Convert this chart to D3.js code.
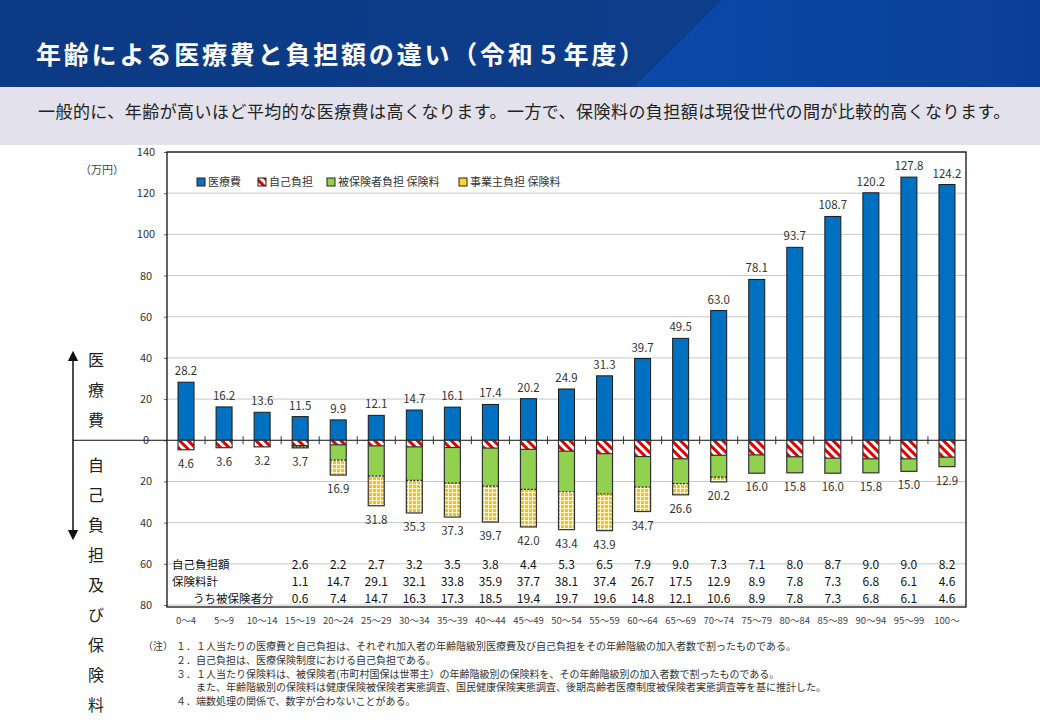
<!DOCTYPE html>
<html><head><meta charset="utf-8">
<script src="https://cdn.jsdelivr.net/npm/d3@7"></script>
<style>
body{margin:0;background:#fff;}
svg{display:block;}
text{font-family:"Noto Sans CJK JP","Noto Sans",sans-serif;}
</style></head>
<body>
<script>
// ---- data ----
const ages = ["0～4","5～9","10～14","15～19","20～24","25～29","30～34","35～39","40～44","45～49","50～54","55～59","60～64","65～69","70～74","75～79","80～84","85～89","90～94","95～99","100～"];
const medical = [28.2,16.2,13.6,11.5,9.9,12.1,14.7,16.1,17.4,20.2,24.9,31.3,39.7,49.5,63.0,78.1,93.7,108.7,120.2,127.8,124.2];
const selfPay = [4.6,3.6,3.2,2.6,2.2,2.7,3.2,3.5,3.8,4.4,5.3,6.5,7.9,9.0,7.3,7.1,8.0,8.7,9.0,9.0,8.2];
const premiumTotal = [0,0,0,1.1,14.7,29.1,32.1,33.8,35.9,37.7,38.1,37.4,26.7,17.5,12.9,8.9,7.8,7.3,6.8,6.1,4.6];
const premiumInsured = [0,0,0,0.6,7.4,14.7,16.3,17.3,18.5,19.4,19.7,19.6,14.8,12.1,10.6,8.9,7.8,7.3,6.8,6.1,4.6];
const totalLabels = ["4.6","3.6","3.2","3.7","16.9","31.8","35.3","37.3","39.7","42.0","43.4","43.9","34.7","26.6","20.2","16.0","15.8","16.0","15.8","15.0","12.9"];
const tableSelfPay = [null,null,null,"2.6","2.2","2.7","3.2","3.5","3.8","4.4","5.3","6.5","7.9","9.0","7.3","7.1","8.0","8.7","9.0","9.0","8.2"];
const tablePremium = [null,null,null,"1.1","14.7","29.1","32.1","33.8","35.9","37.7","38.1","37.4","26.7","17.5","12.9","8.9","7.8","7.3","6.8","6.1","4.6"];
const tableInsured = [null,null,null,"0.6","7.4","14.7","16.3","17.3","18.5","19.4","19.7","19.6","14.8","12.1","10.6","8.9","7.8","7.3","6.8","6.1","4.6"];
const yTicks = [140,120,100,80,60,40,20,0,-20,-40,-60,-80];
const legendItems = ["医療費","自己負担","被保険者負担 保険料","事業主負担 保険料"];
const title = "年齢による医療費と負担額の違い（令和５年度）";
const subtitle = "一般的に、年齢が高いほど平均的な医療費は高くなります。一方で、保険料の負担額は現役世代の間が比較的高くなります。";
const notes = [
 ["（注）","１．１人当たりの医療費と自己負担は、それぞれ加入者の年齢階級別医療費及び自己負担をその年齢階級の加入者数で割ったものである。"],
 ["","２．自己負担は、医療保険制度における自己負担である。"],
 ["","３．１人当たり保険料は、被保険者(市町村国保は世帯主）の年齢階級別の保険料を、その年齢階級別の加入者数で割ったものである。"],
 ["","　　また、年齢階級別の保険料は健康保険被保険者実態調査、国民健康保険実態調査、後期高齢者医療制度被保険者実態調査等を基に推計した。"],
 ["","４．端数処理の関係で、数字が合わないことがある。"]
];

const W=1040,H=720;
const svg=d3.select("body").append("svg").attr("width",W).attr("height",H);
const defs=svg.append("defs");

// header
const g1=defs.append("linearGradient").attr("id","hdr").attr("x1","0").attr("x2","1").attr("y1","0").attr("y2","0");
g1.append("stop").attr("offset","0").attr("stop-color","#0c3a84");
g1.append("stop").attr("offset","1").attr("stop-color","#0e3f8e");
const g2=defs.append("linearGradient").attr("id","hdr2").attr("x1","0").attr("x2","1").attr("y1","0").attr("y2","0");
g2.append("stop").attr("offset","0").attr("stop-color","#0a4aa8");
g2.append("stop").attr("offset","1").attr("stop-color","#0a3f99");
svg.append("rect").attr("x",0).attr("y",0).attr("width",W).attr("height",87).attr("fill","url(#hdr)");
svg.append("polygon").attr("points","722,0 1040,0 1040,87 634,87").attr("fill","url(#hdr2)");
svg.append("text").attr("x",36).attr("y",64).attr("fill","#fff").attr("font-size",25).attr("font-weight","bold")
  .attr("letter-spacing","2.8px").text(title);
svg.append("rect").attr("x",0).attr("y",87).attr("width",W).attr("height",58).attr("fill","#e3e2ec");
svg.append("text").attr("x",38).attr("y",118).attr("fill","#222").attr("font-size",17).attr("letter-spacing","0.45px").text(subtitle);

// patterns
const hatch=defs.append("pattern").attr("id","hatch").attr("patternUnits","userSpaceOnUse")
  .attr("width",6).attr("height",6).attr("patternTransform","rotate(-45)");
hatch.append("rect").attr("width",6).attr("height",6).attr("fill","#fff");
hatch.append("rect").attr("x",0).attr("y",0).attr("width",3).attr("height",6).attr("fill","#e00000");
const grid=defs.append("pattern").attr("id","grid").attr("patternUnits","userSpaceOnUse").attr("width",4).attr("height",4);
grid.append("rect").attr("width",4).attr("height",4).attr("fill","#ffc000");
grid.append("rect").attr("width",4).attr("height",1).attr("fill","#fff8d8");
grid.append("rect").attr("width",1).attr("height",4).attr("fill","#fff8d8");

// scales
const L=167,R=966,T=152,B=605;
const x=d3.scaleBand().domain(ages).range([L,R]).padding(0);
const y=d3.scaleLinear().domain([-80,140]).range([B,T]);
const bw=16;
const cx=d=>x(d)+x.bandwidth()/2;

// gridlines
svg.append("g").selectAll("line").data(yTicks.filter(t=>t!==0)).join("line")
  .attr("x1",L).attr("x2",R).attr("y1",d=>y(d)).attr("y2",d=>y(d)).attr("stroke","#c8c8c8").attr("stroke-width",1);

// y-axis via d3 axis (labels custom)
const yAxis=d3.axisLeft(y).tickValues(yTicks).tickSize(3).tickPadding(8).tickFormat(d=>Math.abs(d));
const ya=svg.append("g").attr("transform",`translate(${L},0)`).call(yAxis);
ya.select(".domain").remove();
ya.selectAll("line").attr("stroke","#666");
ya.selectAll("text").attr("font-size",11).attr("fill","#333").attr("font-family","Liberation Sans, Arial, sans-serif")
  .attr("text-anchor","middle").attr("x",-21);

// frame
svg.append("rect").attr("x",L).attr("y",T).attr("width",R-L).attr("height",B-T+2).attr("fill","none").attr("stroke","#111").attr("stroke-width",1.3);

// zero line + left indicator
svg.append("line").attr("x1",73).attr("x2",R).attr("y1",y(0)).attr("y2",y(0)).attr("stroke","#111").attr("stroke-width",1);
svg.append("g").selectAll("line").data(ages.slice(1)).join("line")
  .attr("x1",d=>x(d)).attr("x2",d=>x(d)).attr("y1",y(0)-4).attr("y2",y(0)+4).attr("stroke","#333");
defs.append("marker").attr("id","arr").attr("viewBox","0 0 10 10").attr("refX",5).attr("refY",5)
  .attr("markerWidth",7).attr("markerHeight",9).attr("orient","auto-start-reverse")
  .append("path").attr("d","M0,0 L10,5 L0,10 z").attr("fill","#111");
svg.append("line").attr("x1",73).attr("x2",73).attr("y1",356).attr("y2",535).attr("stroke","#111").attr("stroke-width",1.5)
  .attr("marker-start","url(#arr)").attr("marker-end","url(#arr)");
const vt1="医療費".split(""), vt2="自己負担及び保険料".split("");
svg.append("g").selectAll("text").data(vt1).join("text").attr("x",96).attr("y",(d,i)=>366+i*30).attr("text-anchor","middle")
  .attr("font-size",16).attr("fill","#222").text(d=>d);
svg.append("g").selectAll("text").data(vt2).join("text").attr("x",96).attr("y",(d,i)=>471+i*30).attr("text-anchor","middle")
  .attr("font-size",16).attr("fill","#222").text(d=>d);
svg.append("text").attr("x",102).attr("y",174).attr("text-anchor","middle").attr("font-size",11).attr("fill","#444").text("（万円）");

// bars: medical
svg.append("g").selectAll("rect").data(ages).join("rect")
  .attr("x",d=>cx(d)-bw/2).attr("width",bw)
  .attr("y",(d,i)=>y(medical[i])).attr("height",(d,i)=>y(0)-y(medical[i]))
  .attr("fill","#0070c0").attr("stroke","#1a1a1a").attr("stroke-width",1);
// self pay
svg.append("g").selectAll("rect").data(ages).join("rect")
  .attr("x",d=>cx(d)-bw/2).attr("width",bw)
  .attr("y",y(0)).attr("height",(d,i)=>y(-selfPay[i])-y(0))
  .attr("fill","url(#hatch)");
// insured premium
svg.append("g").selectAll("rect").data(ages).join("rect")
  .attr("x",d=>cx(d)-bw/2).attr("width",bw)
  .attr("y",(d,i)=>y(-selfPay[i])).attr("height",(d,i)=>y(-(selfPay[i]+premiumInsured[i]))-y(-selfPay[i]))
  .attr("fill","#92d050");
// employer premium
svg.append("g").selectAll("rect").data(ages).join("rect")
  .attr("x",d=>cx(d)-bw/2).attr("width",bw)
  .attr("y",(d,i)=>y(-(selfPay[i]+premiumInsured[i]))).attr("height",(d,i)=>y(-(selfPay[i]+premiumTotal[i]))-y(-(selfPay[i]+premiumInsured[i])))
  .attr("fill","url(#grid)");
// outlines
svg.append("g").selectAll("rect").data(ages).join("rect")
  .attr("x",d=>cx(d)-bw/2).attr("width",bw)
  .attr("y",y(0)).attr("height",(d,i)=>y(-(selfPay[i]+premiumTotal[i]))-y(0))
  .attr("fill","none").attr("stroke","#333").attr("stroke-width",1.2);
svg.append("g").selectAll("line").data(ages.filter((d,i)=>premiumTotal[i]>0)).join("line")
  .attr("x1",d=>cx(d)-bw/2).attr("x2",d=>cx(d)+bw/2)
  .attr("y1",d=>y(-selfPay[ages.indexOf(d)])).attr("y2",d=>y(-selfPay[ages.indexOf(d)]))
  .attr("stroke","#333").attr("stroke-width",1.2);
svg.append("g").selectAll("line").data(ages.filter((d,i)=>premiumTotal[i]-premiumInsured[i]>0.05)).join("line")
  .attr("x1",d=>cx(d)-bw/2).attr("x2",d=>cx(d)+bw/2)
  .attr("y1",d=>{const i=ages.indexOf(d);return y(-(selfPay[i]+premiumInsured[i]));})
  .attr("y2",d=>{const i=ages.indexOf(d);return y(-(selfPay[i]+premiumInsured[i]));})
  .attr("stroke","#222").attr("stroke-width",1.2).attr("stroke-dasharray","2,1.5");

// value labels
svg.append("g").selectAll("text").data(ages).join("text")
  .attr("x",d=>cx(d)).attr("y",(d,i)=>y(medical[i])-7).attr("text-anchor","middle")
  .attr("font-size",11.5).attr("fill","#333").text((d,i)=>medical[i].toFixed(1));
svg.append("g").selectAll("text").data(ages).join("text")
  .attr("x",d=>cx(d)).attr("y",(d,i)=>y(-(selfPay[i]+premiumTotal[i]))+18).attr("text-anchor","middle")
  .attr("font-size",11.5).attr("fill","#333").text((d,i)=>totalLabels[i]);

// legend
const lx=[197,258,327,459], lcol=["#0070c0","url(#hatch)","#92d050","#ffd42a"];
const lg=svg.append("g").selectAll("g").data(legendItems).join("g").attr("transform",(d,i)=>`translate(${lx[i]},182)`);
lg.append("rect").attr("x",0).attr("y",-4).attr("width",8).attr("height",8).attr("fill",(d,i)=>lcol[i]).attr("stroke","#222").attr("stroke-width",1);
lg.append("text").attr("x",11).attr("y",4).attr("font-size",11).attr("fill","#333").text(d=>d);

// table
const rows=[["自己負担額",tableSelfPay,564.5,172],["保険料計",tablePremium,581.3,172],["うち被保険者分",tableInsured,598.1,193]];
rows.forEach(r=>{
  svg.append("text").attr("x",r[3]).attr("y",r[2]+4.5).attr("font-size",11.5).attr("fill","#111").text(r[0]);
  svg.append("g").selectAll("text").data(ages).join("text")
    .attr("x",d=>cx(d)).attr("y",r[2]+4.5).attr("text-anchor","middle")
    .attr("font-family","Liberation Sans Narrow, Liberation Sans, Arial, sans-serif")
    .attr("font-size",12).attr("fill","#111").text((d,i)=>r[1][i]===null?"":r[1][i]);
});

// x axis labels
const xa=svg.append("g").attr("transform",`translate(0,${B+2})`).call(d3.axisBottom(x).tickSize(0).tickPadding(10));
xa.select(".domain").remove();
xa.selectAll("text").attr("font-size",9.5).attr("fill","#444").attr("font-family","Noto Sans CJK JP, sans-serif");

// notes
notes.forEach((n,i)=>{
  const yy=650+i*13.8;
  if(n[0]) svg.append("text").attr("x",143).attr("y",yy).attr("font-size",10).attr("fill","#333").text(n[0]);
  svg.append("text").attr("x",176).attr("y",yy).attr("font-size",10).attr("fill","#333").text(n[1]);
});
</script>
</body></html>
